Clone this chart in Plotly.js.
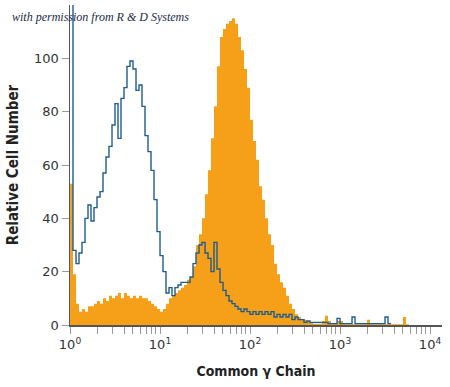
<!DOCTYPE html>
<html>
<head>
<meta charset="utf-8">
<script src="https://cdn.plot.ly/plotly-3.0.1.min.js"></script>
<style>
html,body{margin:0;padding:0;background:#fff;}
#chart{width:450px;height:387px;}
#chart text.xtitle, #chart text.ytitle { font-stretch: condensed; }
</style>
</head>
<body>
<div id="chart"></div>
<script>
// Channel resolution: bins per decade of fluorescence
const binsPerDecade = 30;

// Stained sample (orange, filled) – relative cell number per channel bin
const stainedCounts = [
  53, 19, 8, 5, 6, 5, 7, 7, 8, 9,
  8, 10, 9, 11, 10, 11, 12, 10, 12, 11,
  10, 11, 10, 11, 10, 10, 9, 8, 7, 6,
  5, 6, 8, 10, 11, 12, 13, 14, 15, 17,
  18, 22, 30, 34, 40, 49, 58, 70, 82, 97,
  108, 111, 113, 114, 115, 113, 108, 103, 96, 89,
  77, 69, 62, 52, 47, 40, 34, 30, 23, 19,
  16, 14, 11, 8, 6, 4, 3, 2, 2, 1.5,
  1, 0.5, 0.5, 0.5, 1.5, 3.5, 1.5, 0.5, 0.5, 1.5,
  1.5, 0.3, 0.3, 0.3, 0.3, 0.3, 0.3, 0.3, 0.3, 2,
  0.3, 0.3, 0.3, 0.3, 0.3, 0.3, 0.3, 0.3, 0.3, 0.3,
  0.3, 3, 0.3
];

// Isotype control (blue outline) – relative cell number per channel bin
const isotypeCounts = [
  130, 28, 23, 27, 31, 40, 45, 39, 44, 48,
  50, 57, 63, 67, 75, 83, 70, 85, 89, 97,
  99, 96, 88, 90, 82, 71, 65, 58, 47, 35,
  26, 20, 12, 14, 11, 14, 15, 16, 16, 16,
  18, 23, 27, 30, 31, 27, 25, 20, 31, 21,
  16, 13, 11, 9, 8, 7, 6, 5, 6, 5,
  4, 5, 4, 5, 4, 5, 4, 5, 3, 4,
  3, 4, 3, 4, 2, 3, 2, 2, 1, 1.5,
  1, 1, 1, 1, 1, 1, 0.5, 0.5, 0.5, 2.5,
  0.5, 0.5, 0.5, 0.5, 3, 0.5, 0.5, 0.5, 0.5, 0.5,
  0.5, 0.5, 0.5, 0.5, 0.5, 3, 0.5
];

const yTicks = [0, 20, 40, 60, 80, 100];
const decadeLabels = ['10<sup>0</sup>', '10<sup>1</sup>', '10<sup>2</sup>', '10<sup>3</sup>', '10<sup>4</sup>'];

// channel (bin left edge) values on the log fluorescence scale
function channels(n) {
  const out = [];
  for (let i = 0; i <= n; i++) out.push(Math.pow(10, i / binsPerDecade));
  return out;
}
function closeStep(counts) {
  return counts.concat([counts[counts.length - 1]]);
}

const xs = channels(stainedCounts.length);
const xb = channels(isotypeCounts.length);

// log tick positions 1..9 per decade, labels on decades only
const tickVals = [], tickText = [];
for (let d = 0; d < 4; d++) {
  for (let m = 1; m <= 9; m++) {
    tickVals.push(m * Math.pow(10, d));
    tickText.push(m === 1 ? decadeLabels[d] : '');
  }
}
tickVals.push(10000); tickText.push(decadeLabels[4]);

const fontFam = '"DejaVu Sans", sans-serif';

const traces = [
  {
    x: xs, y: closeStep(stainedCounts), type: 'scatter', mode: 'lines',
    line: {shape: 'hv', width: 0, color: '#F6A01A'},
    fill: 'tozeroy', fillcolor: '#F6A01A', hoverinfo: 'skip'
  },
  {
    x: xb, y: closeStep(isotypeCounts), type: 'scatter', mode: 'lines',
    line: {shape: 'hv', width: 1.4, color: '#1f5c8c'}, hoverinfo: 'skip'
  }
];

const layout = {
  width: 450, height: 387,
  margin: {l: 70, r: 8, t: 5, b: 62},
  paper_bgcolor: '#fff', plot_bgcolor: '#fff',
  showlegend: false,
  font: {family: fontFam, size: 13, color: '#333'},
  xaxis: {
    type: 'log', range: [0, 4.133],
    tickmode: 'array', tickvals: tickVals, ticktext: tickText,
    ticks: 'outside', ticklen: 7, tickcolor: '#999', tickwidth: 1,
    showline: true, linecolor: '#555', linewidth: 1.5,
    showgrid: false, zeroline: false,
    tickfont: {family: fontFam, size: 13, color: '#333'},
    title: {text: 'Common γ Chain', font: {family: fontFam, size: 14, color: '#222', weight: 'bold'}, standoff: 15}
  },
  yaxis: {
    range: [0, 120],
    tickmode: 'array', tickvals: yTicks,
    ticks: 'outside', ticklen: 7, tickcolor: '#999', tickwidth: 1,
    showline: true, linecolor: '#555', linewidth: 1.5,
    showgrid: false, zeroline: false,
    tickfont: {family: fontFam, size: 13, color: '#333'},
    title: {text: 'Relative Cell Number', font: {family: fontFam, size: 15, color: '#222', weight: 'bold'}, standoff: 12}
  },
  annotations: [{
    text: 'with permission from R &amp; D Systems',
    xref: 'paper', yref: 'paper', x: -0.161, y: 0.9625,
    xanchor: 'left', yanchor: 'middle', showarrow: false,
    font: {family: '"Liberation Serif", "DejaVu Serif", serif', size: 12, color: '#1b2a48', style: 'italic'}
  }]
};

Plotly.newPlot('chart', traces, layout, {staticPlot: true, displayModeBar: false});
</script>
</body>
</html>
